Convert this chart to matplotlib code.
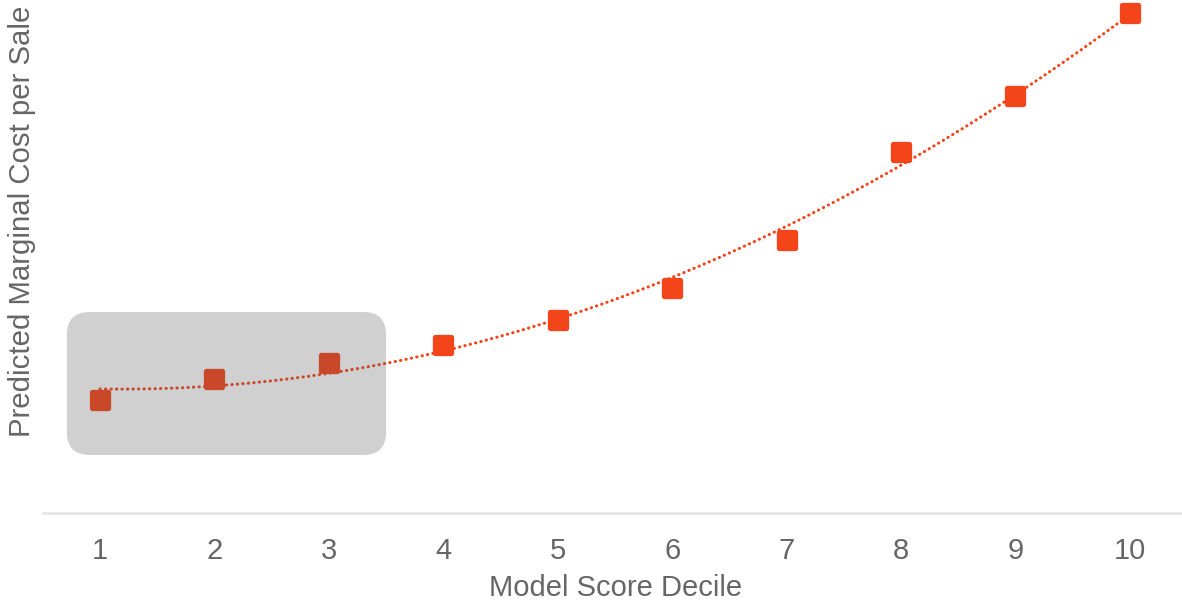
import numpy as np
import matplotlib.pyplot as plt
from matplotlib.patches import FancyBboxPatch
from matplotlib.markers import MarkerStyle

plt.rcParams['font.family'] = ['Liberation Sans', 'DejaVu Sans']

# Predicted marginal cost per sale by model score decile (arbitrary units)
deciles = [1, 2, 3, 4, 5, 6, 7, 8, 9, 10]
cost = [113, 134, 150, 168, 193, 225, 273, 361, 417, 500]
tick_labels = [str(d) for d in deciles]
x_title = "Model Score Decile"
y_title = "Predicted Marginal Cost per Sale"

accent = "#F4441A"
text_gray = "#666666"

fig = plt.figure(figsize=(11.82, 6.02), dpi=100)
ax = fig.add_axes([43 / 1182, 89 / 602, 1 - 43 / 1182, 513 / 602])

# quadratic trend line through the deciles
coef = np.polyfit(deciles, cost, 2)
xs = np.linspace(deciles[0], deciles[-1], 300)
ax.plot(xs, np.polyval(coef, xs), color=accent, lw=2.2,
        linestyle=(0, (0.1, 1.7)), dash_capstyle='round', zorder=2)

# rounded square markers
ax.plot(deciles, cost, linestyle='none',
        marker=MarkerStyle('s', joinstyle='round'), markersize=12,
        markerfacecolor=accent, markeredgecolor=accent,
        markeredgewidth=3.8, zorder=3)

# shaded highlight over the lowest deciles
ax.set_xlim(0.502, 10.455)
ax.set_ylim(0, 513)
box = FancyBboxPatch((0.71, 58), 3.5 - 0.71, 201 - 58,
                     boxstyle="round,pad=0,rounding_size=0.2",
                     mutation_aspect=114.4,
                     facecolor=(0.33, 0.33, 0.33), alpha=0.27,
                     edgecolor='none', zorder=4)
ax.add_patch(box)

ax.set_xticks(deciles)
ax.set_xticklabels(tick_labels)
ax.set_yticks([])
ax.tick_params(axis='x', length=0, pad=17, labelsize=21, labelcolor=text_gray)
for side in ('left', 'right', 'top'):
    ax.spines[side].set_visible(False)
ax.spines['bottom'].set_color('#E6E6E6')
ax.spines['bottom'].set_linewidth(2)

fig.text(616 / 1182, 1 - 588 / 602, x_title, ha='center', va='center',
         fontsize=21, color=text_gray)
fig.text(22 / 1182, 1 - 221 / 602, y_title, rotation=90, ha='center',
         va='center', fontsize=21.2, color=text_gray)

fig.savefig("out.png", dpi=100)
